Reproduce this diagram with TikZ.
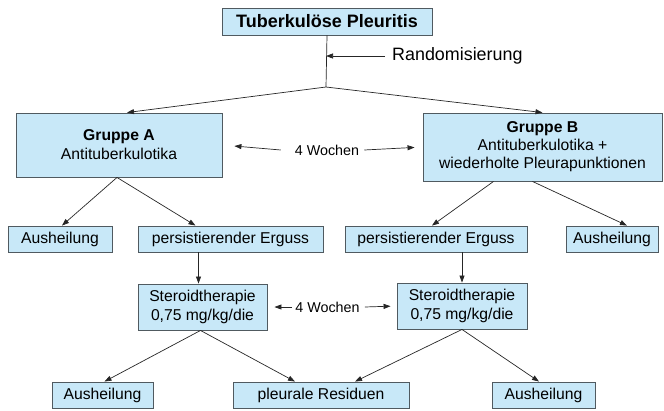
\documentclass[tikz,border=0pt]{standalone}
\usepackage{fontspec}
\setmainfont{Liberation Sans}
\usetikzlibrary{arrows.meta}
\definecolor{boxblue}{HTML}{C8E8F8}
\definecolor{boxline}{HTML}{505A60}
\tikzset{
  box style/.style={
    draw=boxline, fill=boxblue,   % light blue boxes
    line width=0.9pt,
    align=center, inner sep=0pt,
    font=\fontsize{15.7}{19}\selectfont
  }
}
\tikzset{
  link style/.style={
    -{Triangle[length=7pt,width=5pt]},  % small filled tips
    line width=0.7pt, draw=black!85
  }
}
\tikzset{
  wochen style/.style={font=\fontsize{14.3}{17}\selectfont, inner sep=0pt}
}

\begin{document}
\begin{tikzpicture}[x=1pt, y=-1pt]
    \useasboundingbox (0,0) rectangle (664,410);

    % Title and randomisation
    \node[box style, minimum width=210, minimum height=27, font=\fontsize{18}{21}\selectfont\bfseries] (titel) at (327,21.5) {Tuberkulöse Pleuritis};
    \coordinate (split) at (326,87);
    \coordinate (randtip) at (326,56);
    \node[anchor=west, inner sep=0pt, font=\fontsize{17.9}{21}\selectfont] (rand) at (392,56) {Randomisierung};
    \draw[line width=0.7pt, draw=black!85] ([xshift=1pt]titel.south -| split) -- (split);
    \draw[link style] ([xshift=-7pt]rand.west) -- (randtip);

    % Groups
    \node[box style, minimum width=206, minimum height=64] (grA) at (119,145) {\textbf{Gruppe A}\\Antituberkulotika};
    \node[box style, minimum width=239, minimum height=68, font=\fontsize{15.7}{18}\selectfont] (grB) at (542.5,147) {\textbf{Gruppe B}\\Antituberkulotika +\\wiederholte Pleurapunktionen};
    \draw[link style] (split) -- ([xshift=8pt]grA.north);
    \draw[link style] (split) -- (grB.north);
    \node[wochen style] (wA) at (327,150) {4 Wochen};
    \draw[link style, shorten >=12pt] ([xshift=-14pt]wA.west) -- (grA.east);
    \draw[link style, shorten >=8pt] ([xshift=5pt]wA.east) -- (grB.west);

    % First outcome row
    \node[box style, minimum width=104, minimum height=26] (ausA) at (60,239) {Ausheilung};
    \node[box style, minimum width=185, minimum height=26] (persA) at (230.5,239) {persistierender Erguss};
    \node[box style, minimum width=182, minimum height=26] (persB) at (436,239) {persistierender Erguss};
    \node[box style, minimum width=92, minimum height=26] (ausB) at (612,239) {Ausheilung};
    \draw[link style] ([xshift=-2pt]grA.south) -- ([xshift=2pt]ausA.north);
    \draw[link style] ([xshift=-2pt]grA.south) -- ([xshift=-35pt]persA.north);
    \draw[link style] ([xshift=-49pt]grB.south) -- ([xshift=-4pt]persB.north);
    \draw[link style] ([xshift=-10pt]grB.south) -- ([xshift=15pt]ausB.north);

    % Steroid therapy
    \node[box style, minimum width=129, minimum height=46] (steA) at (202.5,307) {Steroidtherapie\\0,75 mg/kg/die};
    \node[box style, minimum width=130, minimum height=46] (steB) at (462,306) {Steroidtherapie\\0,75 mg/kg/die};
    \draw[link style] ([xshift=-4pt]steA.north |- persA.south) -- ([xshift=-4pt]steA.north);
    \draw[link style] (steB.north |- persB.south) -- (steB.north);
    \node[wochen style] (wB) at (327.5,307) {4 Wochen};
    \draw[link style, shorten >=7pt] ([xshift=-3pt]wB.west) -- (steA.east);
    \draw[link style, shorten >=6pt] ([xshift=5pt]wB.east) -- (steB.west);

    % Final outcomes
    \node[box style, minimum width=101, minimum height=26] (ausC) at (102.5,395) {Ausheilung};
    \node[box style, minimum width=176, minimum height=26] (pleu) at (321,395) {pleurale Residuen};
    \node[box style, minimum width=103, minimum height=26] (ausD) at (543.5,395) {Ausheilung};
    \draw[link style] ([xshift=-2pt]steA.south) -- ([xshift=2pt]ausC.north);
    \draw[link style] ([xshift=-2pt]steA.south) -- ([xshift=-26pt]pleu.north);
    \draw[link style] (steB.south) -- ([xshift=34pt]pleu.north);
    \draw[link style] (steB.south) -- ([xshift=-4.5pt]ausD.north);
\end{tikzpicture}
\end{document}
